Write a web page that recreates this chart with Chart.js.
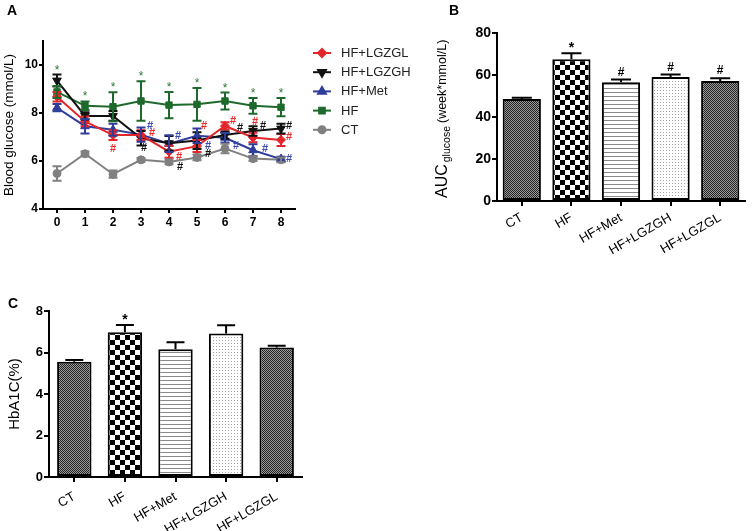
<!DOCTYPE html>
<html><head><meta charset="utf-8">
<script src="https://cdn.jsdelivr.net/npm/chart.js@4"></script>
<style>
html,body{margin:0;padding:0;background:#fff;}
#wrap{position:relative;width:753px;height:531px;overflow:hidden;background:#fff;font-family:"Liberation Sans",Arial,sans-serif;}
canvas{position:absolute;}
.lbl{position:absolute;font-weight:bold;font-size:14px;line-height:14px;color:#000;}
</style></head><body>
<div id="wrap">
<canvas id="cA" width="420" height="240" style="left:0;top:0"></canvas>
<canvas id="cB" width="333" height="265" style="left:420px;top:0"></canvas>
<canvas id="cC" width="330" height="251" style="left:0;top:280px"></canvas>
<div class="lbl" style="left:7px;top:3px">A</div>
<div class="lbl" style="left:449px;top:3px">B</div>
<div class="lbl" style="left:8px;top:296px">C</div>
</div>
<script>
// ---------- DATA ----------
const weeks = ['0','1','2','3','4','5','6','7','8'];
const yTicksA = [4, 6, 8, 10];
const hfLgzgl    = [8.68, 7.65, 7.08, 7.08, 6.39, 6.62, 7.46, 6.98, 6.88];
const hfLgzglErr = [0.20, 0.20, 0.20, 0.20, 0.25, 0.25, 0.15, 0.20, 0.25];
const hfLgzgh    = [9.35, 7.88, 7.88, 6.95, 6.74, 6.85, 7.08, 7.25, 7.35];
const hfLgzghErr = [0.25, 0.15, 0.20, 0.30, 0.30, 0.35, 0.15, 0.20, 0.20];
const hfMet      = [8.22, 7.45, 7.30, 7.10, 6.72, 7.05, 6.97, 6.45, 6.08];
const hfMetErr   = [0.15, 0.30, 0.25, 0.30, 0.35, 0.30, 0.20, 0.25, 0.10];
const hf         = [8.88, 8.30, 8.26, 8.50, 8.33, 8.36, 8.50, 8.30, 8.24];
const hfErr      = [0.25, 0.18, 0.60, 0.82, 0.55, 0.68, 0.35, 0.33, 0.38];
const ct         = [5.48, 6.30, 5.45, 6.05, 5.96, 6.15, 6.52, 6.10, 6.05];
const ctErr      = [0.30, 0.10, 0.15, 0.08, 0.10, 0.12, 0.20, 0.10, 0.10];

const groups   = ['CT', 'HF', 'HF+Met', 'HF+LGZGH', 'HF+LGZGL'];
const auc      = [48.6, 67.5, 56.6, 59.1, 57.2];
const aucErr   = [0.6, 2.8, 1.2, 1.1, 1.3];
const aucMarks = ['', '*', '#', '#', '#'];
const yTicksB  = [0, 20, 40, 60, 80];
const hba1c    = [5.55, 6.97, 6.16, 6.91, 6.24];
const hba1cErr = [0.09, 0.35, 0.34, 0.40, 0.08];
const hbMarks  = ['', '*', '', '', ''];
const yTicksC  = [0, 2, 4, 6, 8];

// significance labels on panel A: [series index, week index, symbol]
const sigA = [
  [1,0,'*'],[3,1,'*'],[3,2,'*'],[3,3,'*'],[3,4,'*'],[3,5,'*'],[3,6,'*'],[3,7,'*'],[3,8,'*'],
  [0,2,'#'],[2,3,'#'],[0,3,'#'],[1,3,'#'],[2,4,'#'],[0,4,'#'],[1,4,'#'],
  [0,5,'#'],[2,5,'#'],[1,5,'#'],[0,6,'#'],[1,6,'#'],[2,6,'#'],
  [0,7,'#'],[1,7,'#'],[2,7,'#'],[1,8,'#'],[0,8,'#'],[2,8,'#']
];
// pixel offsets of the '#' glyphs from their point
const hashOffsets = {
  '0,2':[0,14],'2,3':[9,-9],'0,3':[11,-2],'1,3':[3,10],'2,4':[9,-8],'0,4':[10,5],'1,4':[11,24],
  '0,5':[7,-20],'2,5':[11,10],'1,5':[11,13],'0,6':[8,-5],'1,6':[15,-7],'2,6':[11,8],
  '0,7':[2,-16],'1,7':[10,-5],'2,7':[12,-1],'1,8':[8,-3],'0,8':[8,-3],'2,8':[8,0]
};

// ---------- STYLE ----------
const FONT = '"Liberation Sans", Arial, sans-serif';
Chart.defaults.font.family = FONT;
Chart.defaults.color = '#000';
Chart.defaults.animation = false;

const seriesA = [
  {label:'HF+LGZGL', data:hfLgzgl, err:hfLgzglErr, color:'#e3262b', style:'rectRot', r:4.5, rot:0},
  {label:'HF+LGZGH', data:hfLgzgh, err:hfLgzghErr, color:'#111111', style:'triangle', r:5, rot:180},
  {label:'HF+Met',   data:hfMet,   err:hfMetErr,   color:'#2f3d9a', style:'triangle', r:5, rot:0},
  {label:'HF',       data:hf,      err:hfErr,      color:'#1d6a2c', style:'rect', r:4.5, rot:0},
  {label:'CT',       data:ct,      err:ctErr,      color:'#808080', style:'circle', r:4, rot:0}
];

function axisGrid(len){ return {display:true, drawOnChartArea:false, drawTicks:true, tickLength:len, color:'#000', lineWidth:2}; }

// ---------- PANEL A ----------
const plugA = {
  id:'plugA',
  afterDatasetsDraw(chart){
    const ctx = chart.ctx, ys = chart.scales.y;
    ctx.save();
    chart.data.datasets.forEach((ds, di) => {
      const meta = chart.getDatasetMeta(di);
      ctx.strokeStyle = ds.borderColor; ctx.lineWidth = 2;
      meta.data.forEach((pt, i) => {
        const v = ds.data[i], e = ds.err[i];
        const y1 = ys.getPixelForValue(v + e), y2 = ys.getPixelForValue(v - e);
        ctx.beginPath();
        ctx.moveTo(pt.x, y1); ctx.lineTo(pt.x, y2);
        ctx.moveTo(pt.x - 4.5, y1); ctx.lineTo(pt.x + 4.5, y1);
        ctx.moveTo(pt.x - 4.5, y2); ctx.lineTo(pt.x + 4.5, y2);
        ctx.stroke();
      });
    });
    // significance marks
    sigA.forEach(([s, i, sym]) => {
      const ds = chart.data.datasets[s];
      const pt = chart.getDatasetMeta(s).data[i];
      if (sym === '*') {
        let top = Infinity;
        chart.data.datasets.forEach((d) => { top = Math.min(top, ys.getPixelForValue(d.data[i] + d.err[i])); });
        ctx.fillStyle = '#2a7a35';
        ctx.font = '12px ' + FONT;
        ctx.textAlign = 'center'; ctx.textBaseline = 'alphabetic';
        ctx.fillText('*', pt.x, top - 1);
      } else {
        const off = hashOffsets[s + ',' + i];
        ctx.fillStyle = ds.borderColor === '#2f3d9a' ? '#3a4ab0' : (ds.borderColor === '#e3262b' ? '#ee2a2a' : '#111');
        ctx.font = 'bold 11px ' + FONT;
        ctx.textAlign = 'center'; ctx.textBaseline = 'middle';
        ctx.fillText('#', pt.x + off[0], pt.y + off[1]);
      }
    });
    ctx.restore();
  },
  afterDraw(chart){
    const ctx = chart.ctx;
    ctx.save();
    chart.data.datasets.forEach((ds, k) => {
      const y = 53 + k * 19.2;
      ctx.strokeStyle = ds.borderColor; ctx.fillStyle = ds.borderColor; ctx.lineWidth = 2;
      ctx.beginPath(); ctx.moveTo(313, y); ctx.lineTo(331, y); ctx.stroke();
      Chart.helpers.drawPoint(ctx, {pointStyle: ds.pointStyle, radius: ds.pointRadius - 0.5, rotation: ds.pointRotation, borderWidth: 1}, 322, y);
      ctx.fillStyle = '#222';
      ctx.font = '13px ' + FONT;
      ctx.textAlign = 'left'; ctx.textBaseline = 'middle';
      ctx.fillText(ds.label, 341, y + 0.5);
    });
    ctx.restore();
  }
};

new Chart(document.getElementById('cA'), {
  type: 'line',
  data: {
    labels: weeks,
    datasets: seriesA.map(s => ({
      label: s.label, data: s.data, err: s.err,
      borderColor: s.color, backgroundColor: s.color, borderWidth: 2,
      pointStyle: s.style, pointRadius: s.r, pointRotation: s.rot,
      pointBackgroundColor: s.color, pointBorderColor: s.color, pointBorderWidth: 1,
      tension: 0, fill: false
    }))
  },
  options: {
    responsive: false,
    layout: {padding: {top: 41, right: 125, left: 0, bottom: 0}},
    plugins: {legend: {display: false}, tooltip: {enabled: false}},
    scales: {
      x: {
        type: 'category', offset: true,
        grid: Object.assign(axisGrid(4), {offset: false}),
        border: {color: '#000', width: 2},
        ticks: {font: {size: 12, weight: 'bold'}, padding: 2, maxRotation: 0, color: '#000'},
        afterFit(s){ s.height = 31; }
      },
      y: {
        min: 4, max: 11,
        afterBuildTicks(s){ s.ticks = yTicksA.map(v => ({value: v})); },
        grid: axisGrid(4),
        border: {color: '#000', width: 2},
        ticks: {font: {size: 12, weight: 'bold'}, padding: 1, color: '#000'},
        title: {display: true, text: 'Blood glucose (mmol/L)', font: {size: 13.5}, padding: {top: 1, bottom: 0}, color: '#000'},
        afterFit(s){ s.width = 43; }
      }
    }
  },
  plugins: [plugA]
});

// ---------- PATTERNS ----------
function pat(w, h, draw){
  const c = document.createElement('canvas'); c.width = w; c.height = h;
  const g = c.getContext('2d'); draw(g); return g.createPattern(c, 'repeat');
}
const fineHatch = pat(2, 2, g => { g.fillStyle = '#9a9a9a'; g.fillRect(0,0,2,2); g.fillStyle = '#222'; g.fillRect(0,0,1,1); g.fillRect(1,1,1,1); });
const checker = pat(10, 10, g => { g.fillStyle = '#fff'; g.fillRect(0,0,10,10); g.fillStyle = '#000'; g.fillRect(0,0,5,5); g.fillRect(5,5,5,5); });
const hLines = pat(4, 4, g => { g.fillStyle = '#fff'; g.fillRect(0,0,4,4); g.fillStyle = '#8a8a8a'; g.fillRect(0,0,4,1); });
const dots = pat(3, 3, g => { g.fillStyle = '#fff'; g.fillRect(0,0,3,3); g.fillStyle = '#a8a8a8'; g.fillRect(0,0,1,1); });
const barFills = [fineHatch, checker, hLines, dots, fineHatch];

// ---------- BAR PANELS ----------
const errPlugin = {
  id:'errPlugin',
  afterDatasetsDraw(chart, args, opts){
    const ctx = chart.ctx, ys = chart.scales.y, meta = chart.getDatasetMeta(0);
    const vals = chart.data.datasets[0].data;
    ctx.save();
    ctx.strokeStyle = '#000'; ctx.lineWidth = 2; ctx.fillStyle = '#000';
    meta.data.forEach((bar, i) => {
      const yv = ys.getPixelForValue(vals[i]);
      const yt = ys.getPixelForValue(vals[i] + opts.err[i]);
      ctx.beginPath();
      ctx.moveTo(bar.x, yv); ctx.lineTo(bar.x, yt);
      ctx.moveTo(bar.x - opts.cap/2, yt); ctx.lineTo(bar.x + opts.cap/2, yt);
      ctx.stroke();
      const m = opts.marks[i];
      if (m) {
        ctx.textAlign = 'center'; ctx.textBaseline = 'alphabetic';
        if (m === '*') { ctx.font = 'bold 14px ' + FONT; ctx.fillText('*', bar.x, yt - 1); }
        else { ctx.font = 'bold 12px ' + FONT; ctx.fillText('#', bar.x, yt - 4); }
      }
    });
    ctx.restore();
  }
};

const aucTitle = {
  id:'aucTitle',
  afterDraw(chart){
    const ctx = chart.ctx;
    ctx.save();
    ctx.translate(23, 198); ctx.rotate(-Math.PI/2);
    ctx.fillStyle = '#000'; ctx.textAlign = 'left'; ctx.textBaseline = 'middle';
    ctx.font = '16px ' + FONT; ctx.fillText('AUC', 0, 0);
    let x = ctx.measureText('AUC').width + 2;
    ctx.font = '10.5px ' + FONT; ctx.fillText('glucose', x, 4);
    x += ctx.measureText('glucose').width + 3;
    ctx.font = '12.5px ' + FONT; ctx.fillText('(week*mmol/L)', x, 0);
    ctx.restore();
  }
};

function barChart(id, values, yMax, ticks, yW, padTop, padRight, xH, tickFont, xPad, cap, err, marks, title, barPct, extra){
  return new Chart(document.getElementById(id), {
    type: 'bar',
    data: {labels: groups, datasets: [{data: values, backgroundColor: barFills, borderColor: '#000', borderWidth: 2, borderSkipped: false, categoryPercentage: 1, barPercentage: barPct}]},
    options: {
      responsive: false,
      layout: {padding: {top: padTop, right: padRight, left: 0, bottom: 0}},
      plugins: {legend: {display: false}, tooltip: {enabled: false}, errPlugin: {err: err, cap: cap, marks: marks}},
      scales: {
        x: {
          offset: true,
          grid: Object.assign(axisGrid(5), {offset: false}),
          border: {color: '#000', width: 2},
          ticks: {font: {size: 13}, padding: xPad, minRotation: 30, maxRotation: 30, color: '#000'},
          afterFit(s){ s.height = xH; }
        },
        y: {
          min: 0, max: yMax,
          afterBuildTicks(s){ s.ticks = ticks.map(v => ({value: v})); },
          grid: axisGrid(5),
          border: {color: '#000', width: 2},
          ticks: {font: {size: tickFont, weight: 'bold'}, padding: 1, color: '#000'},
          title: title,
          afterFit(s){ s.width = yW; }
        }
      }
    },
    plugins: extra
  });
}

barChart('cB', auc, 80, yTicksB, 77, 33, 8, 64, 14, 4, 20, aucErr, aucMarks, {display: false}, 0.77, [errPlugin, aucTitle]);
barChart('cC', hba1c, 8, yTicksC, 49, 31, 28, 54, 13, 7, 18, hba1cErr, hbMarks,
  {display: true, text: 'HbA1C(%)', font: {size: 15}, padding: {top: 6, bottom: 0}, color: '#000'}, 0.68, [errPlugin]);
</script>
</body></html>
